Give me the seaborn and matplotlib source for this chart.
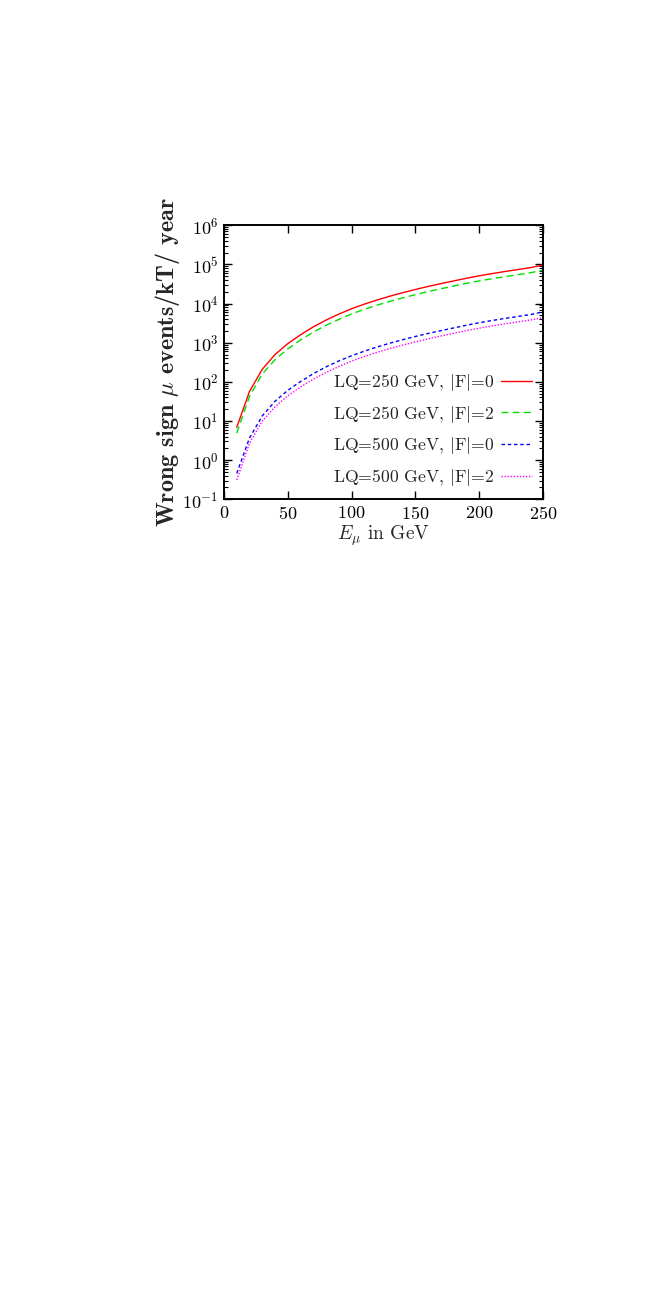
import pandas as pd
import matplotlib
matplotlib.use("Agg")
import matplotlib.pyplot as plt
import matplotlib.ticker as mticker
import seaborn as sns

# energies of the muon beam (GeV)
energy = [10, 20, 30, 40, 50, 60, 70, 80, 90, 100, 110, 120, 130,
          140, 150, 160, 170, 180, 190, 200, 210, 220, 230, 240, 250]

# wrong sign muon events / kT / year
lq250_f0 = [6.9, 57, 210, 500, 950, 1600, 2550, 3800, 5400, 7400, 9700, 12400, 15500,
            19000, 23000, 27500, 32500, 38000, 44500, 51500, 58500, 66000, 74000, 83000, 97000]
lq250_f2 = [4.9, 43, 160, 370, 700, 1180, 1870, 2800, 3950, 5450, 7150, 9150, 11400,
            14000, 17000, 20300, 24000, 28100, 32900, 38100, 43300, 48800, 54700, 61400, 71500]
lq500_f0 = [0.46, 3.7, 13.5, 32, 61, 102, 162, 242, 343, 465, 610, 780, 975,
            1195, 1450, 1730, 2040, 2390, 2800, 3250, 3700, 4180, 4680, 5250, 6150]
lq500_f2 = [0.31, 2.7, 10, 23, 44, 74, 117, 175, 247, 340, 445, 570, 710,
            870, 1050, 1260, 1490, 1745, 2040, 2360, 2690, 3030, 3400, 3800, 4400]

labels = [r"LQ=250 GeV, $|\mathrm{F}|$=0", r"LQ=250 GeV, $|\mathrm{F}|$=2",
          r"LQ=500 GeV, $|\mathrm{F}|$=0", r"LQ=500 GeV, $|\mathrm{F}|$=2"]

sns.set_style("ticks")
plt.rcParams["font.family"] = ["cmr10", "DejaVu Serif"]
plt.rcParams["mathtext.fontset"] = "cm"
plt.rcParams["axes.formatter.use_mathtext"] = True
plt.rcParams["axes.unicode_minus"] = False

fig = plt.figure(figsize=(6.54, 13.08), dpi=100)
ax = fig.add_axes([0.3425, 0.6183, 0.4878, 0.2094])

series = [lq250_f0, lq250_f2, lq500_f0, lq500_f2]
colors = ["#ff0000", "#00e000", "#0000ff", "#ff00ff"]
styles = ["-", (0, (5, 3)), (0, (2.5, 2)), (0, (1, 1.2))]

for vals, lab, col, ls in zip(series, labels, colors, styles):
    df = pd.DataFrame({"E": energy, "N": vals})
    sns.lineplot(x="E", y="N", data=df, ax=ax, color=col, linestyle=ls,
                 linewidth=1.0, label=lab)

ax.set_yscale("log")
ax.set_xlim(0, 250)
ax.set_ylim(1e-1, 1e6)
ax.set_xticks([0, 50, 100, 150, 200, 250])
ax.yaxis.set_major_locator(mticker.LogLocator(base=10, numticks=10))
ax.yaxis.set_minor_locator(mticker.LogLocator(base=10, subs=range(2, 10), numticks=20))
ax.yaxis.set_minor_formatter(mticker.NullFormatter())

ax.tick_params(which="both", direction="in", top=True, right=True, colors="black", labelsize=13)
ax.tick_params(which="major", length=6, width=1.0, pad=4)
ax.tick_params(which="minor", length=3, width=0.8)
for sp in ax.spines.values():
    sp.set_linewidth(1.4)
    sp.set_color("black")

ax.set_xlabel(r"$E_\mu$ in GeV", fontsize=14, labelpad=1.5)
ax.set_ylabel(r"Wrong sign $\mu$ events/kT/ year", fontsize=17.4,
              family=["cmb10", "DejaVu Serif"], labelpad=0)

ax.legend(loc="lower right", bbox_to_anchor=(1.0, 0.0), frameon=False, markerfirst=False,
          fontsize=12.7, handlelength=1.75, handletextpad=0.35, labelspacing=0.6,
          borderaxespad=0.35, borderpad=0.3)

plt.savefig("out.png", dpi=100)
